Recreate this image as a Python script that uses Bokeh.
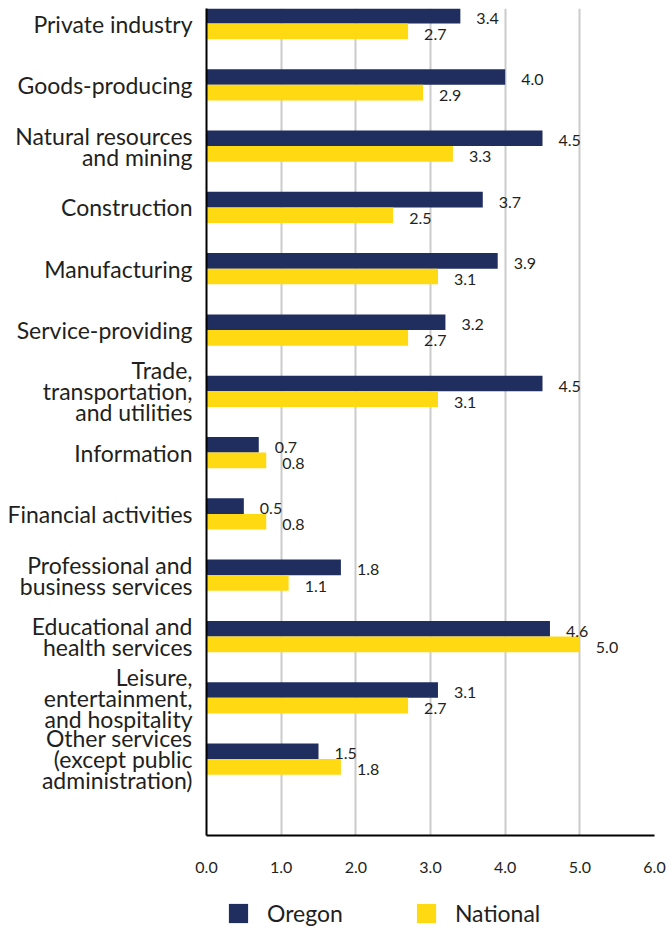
from bokeh.plotting import figure
from bokeh.layouts import column
from bokeh.models import (Range1d, FixedTicker, NumeralTickFormatter, ColumnDataSource,
                          Legend, LegendItem)
from bokeh.transform import dodge
from bokeh.core.properties import value
from bokeh.embed import file_html
from bokeh.resources import INLINE

categories = [
    "Private industry",
    "Goods-producing",
    "Natural resources\nand mining",
    "Construction",
    "Manufacturing",
    "Service-providing",
    "Trade,\ntransportation,\nand utilities",
    "Information",
    "Financial activities",
    "Professional and\nbusiness services",
    "Educational and\nhealth services",
    "Leisure,\nentertainment,\nand hospitality",
    "Other services\n(except public\nadministration)",
]
oregon = [3.4, 4.0, 4.5, 3.7, 3.9, 3.2, 4.5, 0.7, 0.5, 1.8, 4.6, 3.1, 1.5]
national = [2.7, 2.9, 3.3, 2.5, 3.1, 2.7, 3.1, 0.8, 0.8, 1.1, 5.0, 2.7, 1.8]
x_ticks = [0, 1, 2, 3, 4, 5, 6]
series_names = ["Oregon", "National"]

NAVY = "#202d5f"
YELLOW = "#ffd912"
TEXT = "#231f20"
FONT = "Lato"

idx = list(range(len(categories)))
src = ColumnDataSource(dict(
    idx=idx,
    oregon=oregon,
    national=national,
    oregon_label=["%.1f" % v for v in oregon],
    national_label=["%.1f" % v for v in national],
))

p = figure(width=667, height=880,
           x_range=Range1d(0, 6), y_range=Range1d(13.246, -0.245),
           output_backend="svg", toolbar_location=None,
           min_border_left=206, min_border_right=13,
           min_border_top=8, min_border_bottom=45)
p.outline_line_color = None
p.background_fill_color = "white"

# grid
p.xgrid.ticker = FixedTicker(ticks=x_ticks[1:])
p.xgrid.grid_line_color = "#cbcbcb"
p.xgrid.grid_line_width = 2
p.ygrid.grid_line_color = None

# bars
BH = 0.255
OFF = 0.1275
r_or = p.hbar(y=dodge("idx", -OFF, range=p.y_range), left=0, right="oregon", height=BH,
              fill_color=NAVY, line_color=None, source=src)
r_na = p.hbar(y=dodge("idx", OFF, range=p.y_range), left=0, right="national", height=BH,
              fill_color=YELLOW, line_color=None, source=src)

# value labels
p.text(x="oregon", y=dodge("idx", -OFF, range=p.y_range), text="oregon_label",
       x_offset=16, y_offset=2.5, text_baseline="middle", text_align="left",
       text_font=value(FONT), text_font_size="16px", text_color=TEXT, source=src)
p.text(x="national", y=dodge("idx", OFF, range=p.y_range), text="national_label",
       x_offset=16, y_offset=3, text_baseline="middle", text_align="left",
       text_font=value(FONT), text_font_size="16px", text_color=TEXT, source=src)

# axes
xa = p.xaxis[0]
xa.ticker = FixedTicker(ticks=x_ticks)
xa.formatter = NumeralTickFormatter(format="0.0")
xa.axis_line_color = "black"
xa.axis_line_width = 2
xa.major_tick_line_color = None
xa.minor_tick_line_color = None
xa.major_tick_out = 0
xa.major_tick_in = 0
xa.major_label_standoff = 26
xa.major_label_text_font = FONT
xa.major_label_text_font_size = "16px"
xa.major_label_text_color = TEXT

ya = p.yaxis[0]
ya.ticker = FixedTicker(ticks=idx)
ya.major_label_overrides = {i: c for i, c in zip(idx, categories)}
ya.axis_line_color = "black"
ya.axis_line_width = 2
ya.major_tick_line_color = None
ya.minor_tick_line_color = None
ya.major_tick_out = 0
ya.major_tick_in = 0
ya.major_label_standoff = 14
ya.major_label_text_font = FONT
ya.major_label_text_font_size = "23px"
ya.major_label_text_color = TEXT
ya.major_label_text_align = "right"
ya.major_label_text_line_height = 0.75

# legend strip below the chart (its frame is aligned with the chart's frame)
leg = figure(width=667, height=52, x_range=Range1d(0, 6), y_range=Range1d(100, 152),
             x_axis_type=None, y_axis_type=None,
             output_backend="svg", toolbar_location=None,
             min_border_left=206, min_border_right=13, min_border_top=0, min_border_bottom=0)
leg.outline_line_color = None
leg.grid.visible = False
lr_or = leg.hbar(y="idx", left=0, right="oregon", height=BH,
                 fill_color=NAVY, line_color=None, source=src)
lr_na = leg.hbar(y="idx", left=0, right="national", height=BH,
                 fill_color=YELLOW, line_color=None, source=src)
legend = Legend(items=[LegendItem(label=series_names[0], renderers=[lr_or]),
                       LegendItem(label=series_names[1], renderers=[lr_na])],
                orientation="horizontal", location=(20, 5),
                glyph_width=24, glyph_height=24, label_standoff=17, spacing=71,
                padding=0, margin=0, border_line_color=None, background_fill_alpha=0,
                label_text_font=FONT, label_text_font_size="23px", label_text_color=TEXT)
leg.add_layout(legend, "center")

layout = column(p, leg, spacing=0)
open("out.html", "w").write(file_html(layout, INLINE))
